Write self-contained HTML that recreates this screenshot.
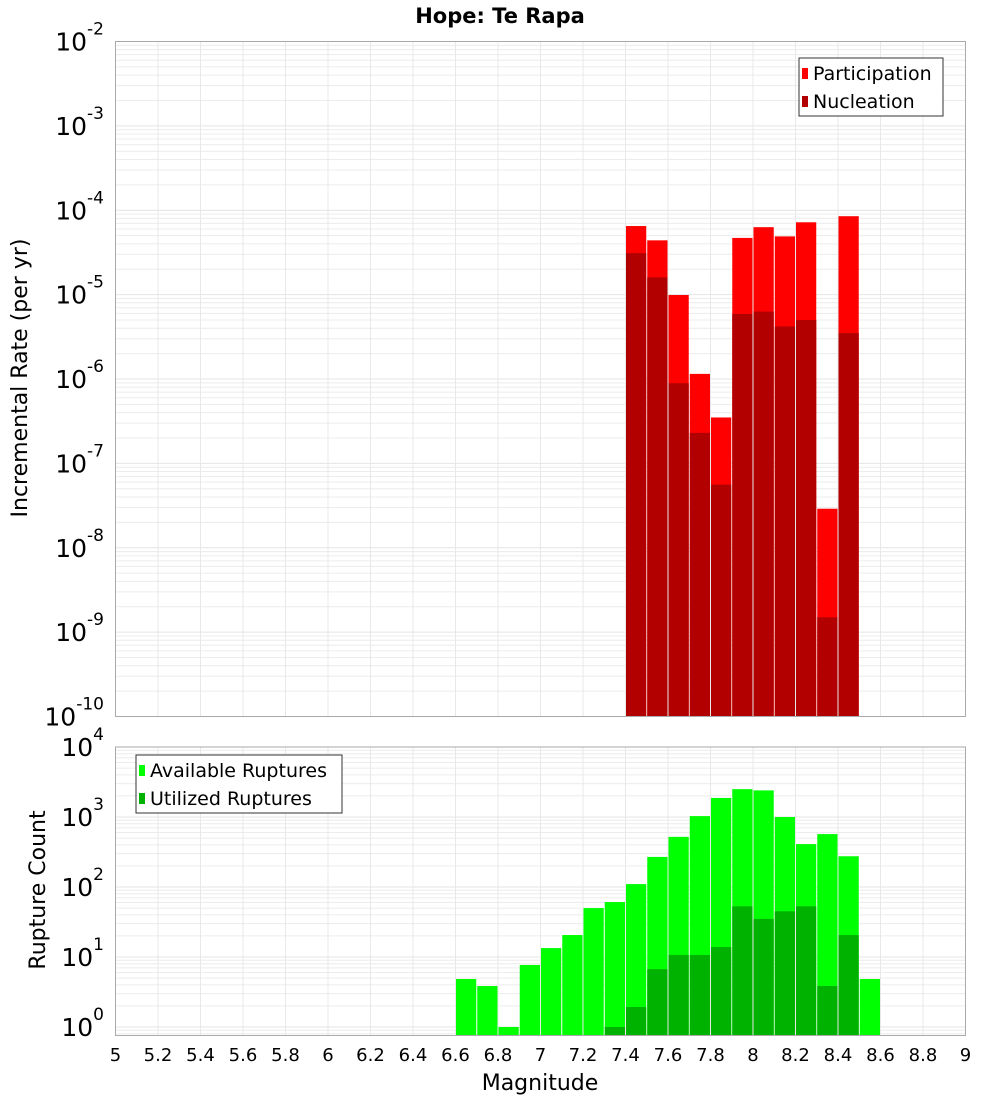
<!DOCTYPE html>
<html><head><meta charset="utf-8"><style>
body{margin:0;background:#fff;}
svg{display:block;font-family:"DejaVu Sans","Liberation Sans",sans-serif;}
</style></head><body>
<svg id="chart" width="1000" height="1100" viewBox="0 0 1000 1100" xmlns="http://www.w3.org/2000/svg">
<text x="500" y="23" text-anchor="middle" font-size="21" font-weight="bold">Hope: Te Rapa</text>
<g id="top"></g><g id="bot"></g>
<text transform="translate(27,378) rotate(-90)" text-anchor="middle" font-size="22">Incremental Rate (per yr)</text>
<text transform="translate(45,890) rotate(-90)" text-anchor="middle" font-size="22">Rupture Count</text>
<text x="540" y="1090" text-anchor="middle" font-size="22">Magnitude</text>
</svg>
<script>
const binStarts=[7.4,7.5,7.6,7.7,7.8,7.9,8.0,8.1,8.2,8.3,8.4];
const participation=[6.5e-5,4.4e-5,9.9e-6,1.15e-6,3.5e-7,4.7e-5,6.3e-5,4.9e-5,7.2e-5,2.9e-8,8.5e-5];
const nucleation=[3.1e-5,1.6e-5,8.9e-7,2.3e-7,5.6e-8,5.9e-6,6.3e-6,4.2e-6,5.0e-6,1.5e-9,3.5e-6];
const availStarts=[6.6,6.7,6.8,6.9,7.0,7.1,7.2,7.3,7.4,7.5,7.6,7.7,7.8,7.9,8.0,8.1,8.2,8.3,8.4,8.5];
const available=[4.85,3.85,1,7.7,13.4,20.6,50,61,110,269,520,1030,1870,2500,2400,1000,410,570,275,4.85];
const utilStarts=[7.3,7.4,7.5,7.6,7.7,7.8,7.9,8.0,8.1,8.2,8.3,8.4];
const utilized=[1,1.93,6.7,10.7,10.7,13.9,53,35,45,53,3.85,20.6];
const xTicks=[5,5.2,5.4,5.6,5.8,6,6.2,6.4,6.6,6.8,7,7.2,7.4,7.6,7.8,8,8.2,8.4,8.6,8.8,9];
const topExp=[-2,-3,-4,-5,-6,-7,-8,-9,-10];
const botExp=[4,3,2,1,0];

const NS="http://www.w3.org/2000/svg";
const L=115.5,R=965.5;
const xs=v=>L+(v-5)/4*(R-L);
function mk(p,t,a){const e=document.createElementNS(NS,t);for(const k in a)e.setAttribute(k,a[k]);p.appendChild(e);return e;}
function panel(g,top,bottom,yTopExp,decPx,yBottomLog,name){
  const ys=v=>top+(yTopExp-Math.log10(v))*decPx;
  const bg=mk(g,'rect',{x:L,y:top,width:R-L,height:bottom-top,fill:'#fff'});
  
  // minor grid
  for(let e=Math.floor(yBottomLog);e<yTopExp;e++){for(let m=1;m<10;m++){const v=m*Math.pow(10,e);const y=ys(v);if(y<top||y>bottom)continue;
    const ln=mk(g,'line',{x1:L,x2:R,y1:y,y2:y,stroke:m==1?'#e4e4e4':'#ececec','stroke-width':1});
    }}
  xTicks.forEach(t=>{const ln=mk(g,'line',{x1:xs(t),x2:xs(t),y1:top,y2:bottom,stroke:'#e8e8e8'});
    });
  return ys;
}
function bars(g,starts,vals,ys,bottom,color,name){
  starts.forEach((s,i)=>{const x0=xs(s)+0.5,x1=xs(s+0.1)-0.5;const y=ys(vals[i]);
    const r=mk(g,'rect',{x:x0,y:y,width:x1-x0,height:bottom-y,fill:color});
    });
}
function frame(g,top,bottom,name){const f=mk(g,'rect',{x:L,y:top,width:R-L,height:bottom-top,fill:'none',stroke:'#aaa'});
  }
function yLabels(g,exps,ys,name){exps.forEach(e=>{const y=ys(Math.pow(10,e));
  const t=mk(g,'text',{x:104,y:y+9,'text-anchor':'end','font-size':25});
  
  t.textContent='10';const s=mk(t,'tspan',{dy:-16,'font-size':17});s.textContent=String(e);});}
function legend(g,x,y,w,items,name){
  const b=mk(g,'rect',{x:x,y:y,width:w,height:58,fill:'#fff',stroke:'#333'});
  
  items.forEach((it,i)=>{const cy=y+15+i*28;
    const sw=mk(g,'rect',{x:x+3,y:cy-5,width:6,height:11,fill:it[1]});
    
    const t=mk(g,'text',{x:x+14,y:cy+7,'font-size':19});t.textContent=it[0];
    });
}
// top panel
const gT=document.getElementById('top');
const ysT=panel(gT,41.5,716.5,-2,84.375,-10,'top');
bars(gT,binStarts,participation,ysT,716.5,'#ff0000','participation');
bars(gT,binStarts,nucleation,ysT,716.5,'#b20000','nucleation');
frame(gT,41.5,716.5,'top');
yLabels(gT,topExp,ysT,'top');
legend(gT,799,58,144,[['Participation','#ff0000'],['Nucleation','#b20000']],'top');
// bottom panel
const gB=document.getElementById('bot');
const ysB=panel(gB,747,1035.5,4,70,-0.12,'bottom');
bars(gB,availStarts,available,ysB,1035.5,'#00ff00','available');
bars(gB,utilStarts,utilized,ysB,1035.5,'#00b200','utilized');
frame(gB,747,1035.5,'bottom');
yLabels(gB,botExp,ysB,'bottom');
legend(gB,136,755,206,[['Available Ruptures','#00ff00'],['Utilized Ruptures','#00b200']],'bottom');
xTicks.forEach(t=>{const tx=mk(gB,'text',{x:xs(t),y:1061,'text-anchor':'middle','font-size':18});
  tx.textContent=String(Math.round(t*10)/10);
  });
</script>
</body></html>
